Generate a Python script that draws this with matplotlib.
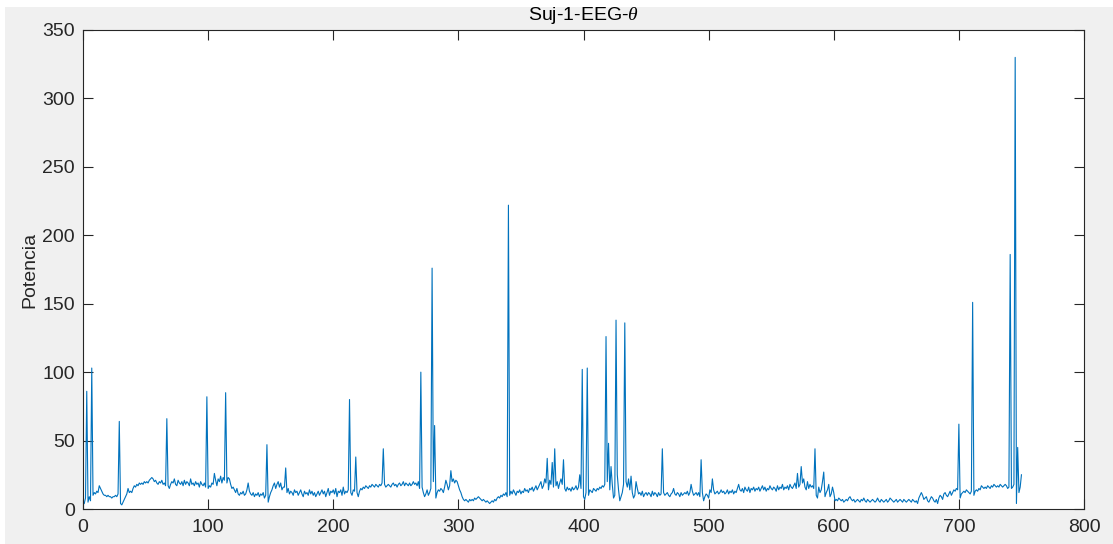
import numpy as np
import matplotlib
matplotlib.use("Agg")
import matplotlib.pyplot as plt
from matplotlib.patches import Rectangle

# Theta-band power per window, subject 1 (samples 1..750)
power_001_100 = [
    4, 8, 86, 5, 9, 6, 103, 10, 12, 11,
    13, 12, 17, 15, 13, 11, 10, 10, 9, 10,
    9, 9, 8, 9, 9, 10, 9, 11, 64, 4,
    3, 5, 7, 9, 11, 15, 12, 13, 12, 15,
    17, 16, 18, 17, 19, 18, 19, 18, 20, 19,
    20, 19, 21, 22, 23, 22, 20, 21, 19, 18,
    20, 19, 21, 18, 19, 17, 66, 17, 15, 18,
    20, 19, 22, 18, 17, 21, 19, 18, 20, 17,
    21, 18, 20, 19, 17, 22, 18, 19, 17, 20,
    18, 19, 16, 20, 18, 17, 19, 16, 82, 15,
]
power_101_200 = [
    17, 16, 19, 18, 26, 21, 17, 22, 20, 24,
    19, 23, 21, 85, 19, 23, 22, 18, 15, 16,
    14, 12, 15, 11, 10, 12, 11, 13, 10, 11,
    14, 19, 13, 11, 10, 12, 9, 11, 10, 12,
    9, 11, 10, 12, 8, 10, 47, 5, 9, 12,
    14, 17, 19, 15, 18, 20, 16, 19, 14, 16,
    16, 30, 12, 15, 11, 13, 12, 10, 14, 12,
    13, 10, 12, 14, 11, 9, 13, 11, 12, 10,
    14, 11, 13, 10, 12, 9, 11, 13, 10, 12,
    14, 11, 13, 9, 12, 15, 10, 13, 12, 14,
]
power_201_300 = [
    11, 15, 9, 13, 12, 14, 10, 16, 11, 13,
    12, 14, 80, 12, 10, 14, 13, 38, 12, 9,
    13, 15, 14, 16, 15, 17, 16, 15, 17, 16,
    18, 17, 16, 18, 17, 16, 18, 17, 19, 44,
    18, 16, 17, 18, 17, 16, 18, 19, 17, 18,
    16, 18, 19, 17, 18, 20, 17, 19, 18, 17,
    19, 17, 18, 20, 18, 19, 17, 20, 15, 100,
    16, 12, 9, 11, 14, 10, 12, 15, 176, 20,
    61, 8, 12, 14, 13, 15, 14, 12, 16, 21,
    18, 14, 17, 28, 20, 22, 19, 21, 20, 17,
]
power_301_400 = [
    14, 12, 9, 7, 6, 7, 6, 5, 7, 6,
    7, 6, 8, 7, 8, 9, 8, 7, 6, 7,
    6, 5, 6, 5, 4, 5, 6, 5, 7, 6,
    8, 9, 8, 10, 9, 11, 10, 12, 9, 222,
    10, 13, 11, 14, 12, 10, 13, 12, 14, 11,
    13, 12, 15, 13, 14, 12, 15, 14, 16, 13,
    15, 17, 14, 16, 18, 20, 15, 17, 22, 19,
    37, 14, 21, 18, 34, 16, 44, 17, 20, 15,
    19, 22, 18, 36, 15, 13, 16, 14, 15, 13,
    16, 14, 15, 17, 14, 16, 25, 15, 102, 9,
]
power_401_500 = [
    7, 12, 103, 10, 14, 13, 12, 15, 14, 13,
    15, 14, 16, 15, 17, 16, 18, 126, 20, 48,
    14, 31, 18, 8, 10, 138, 25, 14, 6, 9,
    12, 18, 136, 20, 16, 22, 14, 24, 12, 8,
    10, 20, 15, 11, 12, 10, 13, 9, 11, 12,
    10, 12, 11, 9, 13, 10, 12, 11, 9, 12,
    10, 11, 44, 12, 10, 11, 12, 10, 9, 11,
    12, 15, 11, 10, 12, 11, 9, 12, 10, 11,
    12, 11, 13, 10, 12, 18, 13, 10, 11, 12,
    10, 12, 9, 36, 12, 6, 9, 11, 10, 8,
]
power_501_600 = [
    14, 12, 22, 14, 11, 12, 13, 11, 12, 14,
    12, 13, 11, 12, 14, 11, 13, 12, 14, 11,
    13, 12, 15, 18, 14, 13, 15, 12, 16, 14,
    13, 16, 12, 15, 14, 16, 13, 15, 14, 16,
    13, 15, 17, 14, 16, 13, 15, 14, 17, 15,
    14, 16, 15, 13, 17, 14, 16, 15, 18, 14,
    16, 15, 17, 14, 18, 16, 15, 17, 19, 15,
    26, 16, 18, 31, 19, 22, 16, 14, 20, 15,
    18, 16, 17, 15, 44, 10, 8, 16, 12, 14,
    20, 27, 9, 12, 14, 18, 9, 11, 16, 12,
]
power_601_700 = [
    6, 7, 6, 8, 7, 6, 7, 5, 6, 7,
    6, 8, 9, 7, 6, 7, 5, 6, 7, 6,
    5, 7, 6, 8, 6, 5, 7, 6, 5, 6,
    7, 6, 5, 6, 8, 6, 5, 7, 6, 5,
    6, 7, 5, 6, 8, 7, 6, 5, 6, 7,
    5, 6, 7, 6, 5, 7, 6, 5, 6, 7,
    6, 5, 7, 6, 5, 6, 4, 8, 10, 12,
    10, 7, 8, 9, 6, 5, 7, 9, 8, 6,
    5, 7, 4, 8, 10, 9, 7, 11, 12, 10,
    9, 11, 13, 10, 12, 14, 13, 15, 14, 62,
]
power_701_750 = [
    8, 11, 12, 13, 12, 14, 13, 12, 11, 13,
    151, 10, 13, 14, 13, 15, 14, 17, 16, 15,
    16, 15, 17, 16, 15, 17, 16, 18, 17, 16,
    17, 16, 18, 17, 16, 17, 18, 17, 15, 16,
    186, 15, 16, 18, 330, 4, 45, 12, 16, 25,
]

power = np.array(power_001_100 + power_101_200 + power_201_300 + power_301_400
                 + power_401_500 + power_501_600 + power_601_700 + power_701_750,
                 dtype=float)
samples = np.arange(1, len(power) + 1)

x_ticks = [0, 100, 200, 300, 400, 500, 600, 700, 800]
y_ticks = [0, 50, 100, 150, 200, 250, 300, 350]

plt.rcParams["font.family"] = ["Liberation Sans", "DejaVu Sans"]
plt.rcParams["mathtext.fontset"] = "custom"
plt.rcParams["mathtext.rm"] = "Liberation Sans"
plt.rcParams["mathtext.it"] = "Liberation Serif:italic"

W, H = 1113, 544
fig = plt.figure(figsize=(W / 100, H / 100), dpi=100, facecolor="#f0f0f0")

# light border strips along the top and left of the window
fig.patches.append(Rectangle((0, 1 - 7 / H), 1, 7 / H, transform=fig.transFigure,
                             facecolor="white", edgecolor="none", zorder=-1))
fig.patches.append(Rectangle((0, 0), 5 / W, 1, transform=fig.transFigure,
                             facecolor="white", edgecolor="none", zorder=-1))

left, right, bottom, top = 83, 1084, 35, 514
ax = fig.add_axes([left / W, bottom / H, (right - left) / W, (top - bottom) / H])
ax.set_facecolor("white")

ax.plot(samples, power, color="#0072BD", linewidth=0.8)

ax.set_xlim(0, 800)
ax.set_ylim(0, 350)
ax.set_xticks(x_ticks)
ax.set_yticks(y_ticks)

edge = "#262626"
for side in ax.spines.values():
    side.set_color(edge)
    side.set_linewidth(0.8)
ax.tick_params(direction="in", length=7, width=0.8, color=edge,
               top=True, right=True, labelsize=14, labelcolor=edge)
ax.tick_params(axis="x", pad=7.5)
ax.tick_params(axis="y", pad=6)

ax.set_ylabel("Potencia", fontsize=14, color=edge, labelpad=3)
ax.set_title(r"Suj-1-EEG-$\theta$", fontsize=14, color="black", pad=7)

fig.savefig("out.png", dpi=100, facecolor=fig.get_facecolor())
